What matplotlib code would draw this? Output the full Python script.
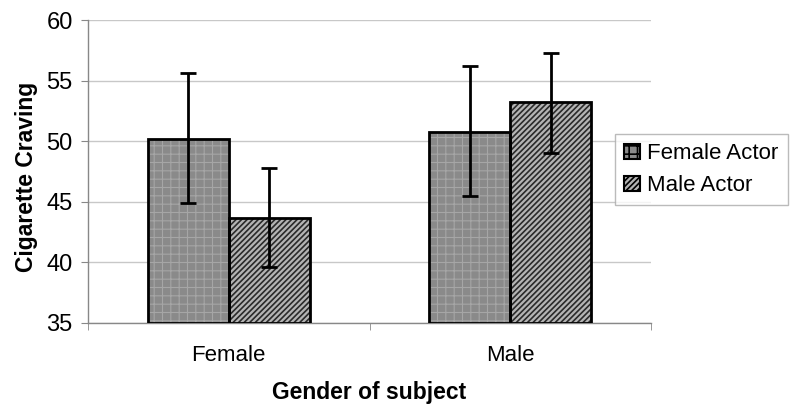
import numpy as np
import matplotlib
matplotlib.use("Agg")
import matplotlib.pyplot as plt
from matplotlib.patches import Patch

plt.rcParams['font.family'] = ['Liberation Sans', 'DejaVu Sans']

# data
groups = ["Female", "Male"]
series = ["Female Actor", "Male Actor"]
means = {
    "Female Actor": [50.2, 50.8],
    "Male Actor": [43.7, 53.2],
}
err_low = {
    "Female Actor": [44.9, 45.5],
    "Male Actor": [39.6, 49.05],
}
err_high = {
    "Female Actor": [55.6, 56.2],
    "Male Actor": [47.8, 57.25],
}

# fill, hatch, hatch colour, hatch width per series
styles = {
    "Female Actor": ("#8a8a8a", "++", "#a6a6a6", 0.8),
    "Male Actor": ("#b4b4b4", "//////", "#2a2a2a", 1.2),
}

fig = plt.figure(figsize=(8, 4.15), dpi=100)
ax = fig.add_axes([0.11, 0.2217, 0.704, 0.7301])

x = np.arange(len(groups))
w = 0.2875
offsets = [-w / 2, w / 2]
handles = []
for s, off in zip(series, offsets):
    fc, hatch, hc, hlw = styles[s]
    plt.rcParams['hatch.linewidth'] = hlw
    m = np.array(means[s])
    lo = m - np.array(err_low[s])
    hi = np.array(err_high[s]) - m
    # hatched fill first, outline on top
    ax.bar(x + off, m - 35, w, bottom=35, color=fc, hatch=hatch,
           edgecolor=hc, linewidth=0, zorder=2)
    ax.bar(x + off, m - 35, w, bottom=35, facecolor="none",
           edgecolor="black", linewidth=2, zorder=3)
    ax.errorbar(x + off, m, yerr=[lo, hi], fmt="none", ecolor="black",
                elinewidth=2, capsize=6, capthick=2, zorder=4)
    handles.append(Patch(facecolor=fc, hatch=hatch, edgecolor="black",
                         linewidth=1.5, label=s))

ax.set_xlim(-0.5, 1.5)
ax.set_ylim(35, 60)
ax.set_yticks([35, 40, 45, 50, 55, 60])
ax.set_xticks(x)
ax.set_xticklabels(groups)
ax.set_xticks([-0.5, 0.5, 1.5], minor=True)
ax.tick_params(axis="x", which="major", length=0, pad=16, labelsize=16)
ax.tick_params(axis="x", which="minor", length=5, direction="out", color="#888888")
ax.tick_params(axis="y", length=5, direction="out", color="#888888", labelsize=17, pad=6)

ax.yaxis.grid(True, color="#c8c8c8", linewidth=1)
ax.set_axisbelow(True)
for side in ["top", "right"]:
    ax.spines[side].set_visible(False)
for side in ["left", "bottom"]:
    ax.spines[side].set_color("#888888")
    ax.spines[side].set_linewidth(1)

ax.set_ylabel("Cigarette Craving", fontsize=16.5, fontweight="bold")
ax.yaxis.set_label_coords(-0.089, 0.482)
ax.set_xlabel("Gender of subject", fontsize=16.5, fontweight="bold", va="center")
ax.xaxis.set_label_coords(0.5, -0.231)

leg = fig.legend(handles=handles, loc="center left", bbox_to_anchor=(0.769, 0.591),
                 fontsize=16, frameon=True, fancybox=False, handlelength=0.7,
                 handleheight=0.7, handletextpad=0.35, borderpad=0.4,
                 labelspacing=0.5, borderaxespad=0)
leg.get_frame().set_edgecolor("#aaaaaa")
leg.get_frame().set_linewidth(1)

fig.savefig("out.png", dpi=100)
